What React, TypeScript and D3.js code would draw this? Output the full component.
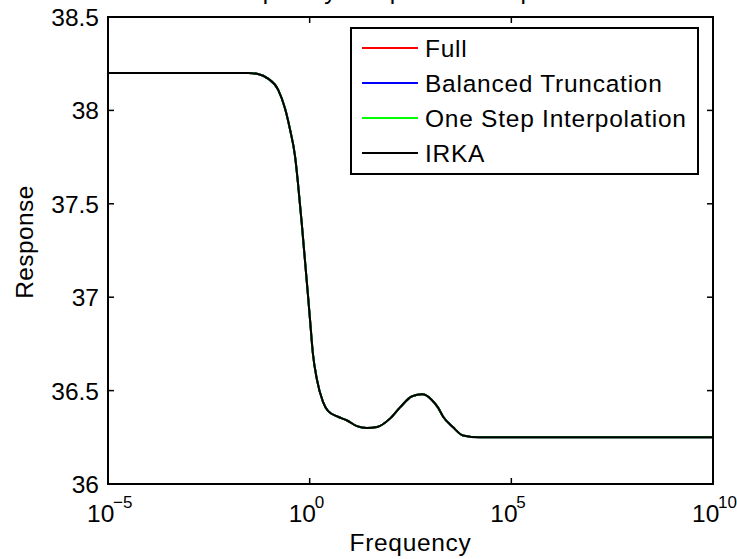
import React from "react";
import * as d3 from "d3";

const frequency = [1e-5, 0.03, 0.052, 0.093, 0.166, 0.245, 0.324, 0.437, 0.513, 0.646, 1.02, 1.2, 1.51, 2.14, 2.88, 5.0, 8.5, 14.8, 26.3, 46.8, 97.7, 174, 347, 617, 1070, 1510, 2040, 3550, 6310, 16600, 1e10];
const fullResponse = [38.2, 38.2, 38.195, 38.17, 38.11, 38.01, 37.9, 37.75, 37.61, 37.38, 36.88, 36.7, 36.56, 36.44, 36.39, 36.36, 36.34, 36.31, 36.3, 36.305, 36.35, 36.41, 36.47, 36.48, 36.45, 36.41, 36.36, 36.305, 36.26, 36.25, 36.25];
const btResponse = fullResponse;
const osiResponse = fullResponse;
const irkaResponse = fullResponse;

const seriesNames = ["Full", "Balanced Truncation", "One Step Interpolation", "IRKA"];
const seriesColors = ["#ff0000", "#0000ff", "#00ff00", "#000000"];
const seriesValues = [fullResponse, btResponse, osiResponse, irkaResponse];

const xTickExps = [-5, 0, 5, 10];
const yTicks = [36, 36.5, 37, 37.5, 38, 38.5];
const titleText = "Frequency Response Comparison";

const W = 737, H = 559;
const L = 108, R = 713, T = 17, B = 484;
const FONT = "'Liberation Sans', Arial, Helvetica, sans-serif";
const FS = 24.5;

export default function App() {
  const x = d3.scaleLog().domain([1e-5, 1e10]).range([L, R]);
  const y = d3.scaleLinear().domain([36, 38.5]).range([B, T]);
  const line = d3.line<number>()
    .x((_, i) => x(frequency[i]))
    .y((d) => y(d))
    .curve(d3.curveMonotoneX);
  const tick = 6;
  return (
    <svg width={W} height={H} style={{ position: "absolute", left: 0, top: 0, background: "#fff" }} fontFamily={FONT}>
      <rect x={0} y={0} width={W} height={H} fill="#fff" />
      <text x={(L + R) / 2} y={-1} textAnchor="middle" fontSize={FS} letterSpacing={0.6}>{titleText}</text>
      {seriesValues.map((vals, i) => (
        <path key={i} d={line(vals) || ""} fill="none" stroke={seriesColors[i]} strokeWidth={2} />
      ))}
      <rect x={L} y={T} width={R - L} height={B - T} fill="none" stroke="#000" strokeWidth={2} />
      {yTicks.map((t) => (
        <g key={t}>
          <line x1={L} x2={L + tick} y1={y(t)} y2={y(t)} stroke="#000" strokeWidth={1.5} />
          <line x1={R} x2={R - tick} y1={y(t)} y2={y(t)} stroke="#000" strokeWidth={1.5} />
          <text x={L - 9} y={y(t) + 9} textAnchor="end" fontSize={FS}>{t}</text>
        </g>
      ))}
      {xTickExps.map((e) => {
        const px = x(Math.pow(10, e));
        return (
          <g key={e}>
            <line x1={px} x2={px} y1={B} y2={B - tick} stroke="#000" strokeWidth={1.5} />
            <line x1={px} x2={px} y1={T} y2={T + tick} stroke="#000" strokeWidth={1.5} />
            <text x={px - 21} y={522} fontSize={FS}>10</text>
            <text x={px + 5} y={508} fontSize={17}>{e < 0 ? "\u2212" + Math.abs(e) : String(e)}</text>
          </g>
        );
      })}
      <text x={(L + R) / 2} y={551} textAnchor="middle" fontSize={FS} letterSpacing={0.7}>Frequency</text>
      <text transform={`translate(33,242) rotate(-90)`} textAnchor="middle" fontSize={FS} letterSpacing={0.4}>Response</text>
      <g>
        <rect x={351} y={28} width={347} height={146} fill="#fff" stroke="#000" strokeWidth={2} />
        {seriesNames.map((n, i) => (
          <g key={n}>
            <line x1={362} x2={418} y1={48 + i * 35} y2={48 + i * 35} stroke={seriesColors[i]} strokeWidth={2} />
            <text x={425} y={57 + i * 35} fontSize={FS} letterSpacing={0.75}>{n}</text>
          </g>
        ))}
      </g>
    </svg>
  );
}
